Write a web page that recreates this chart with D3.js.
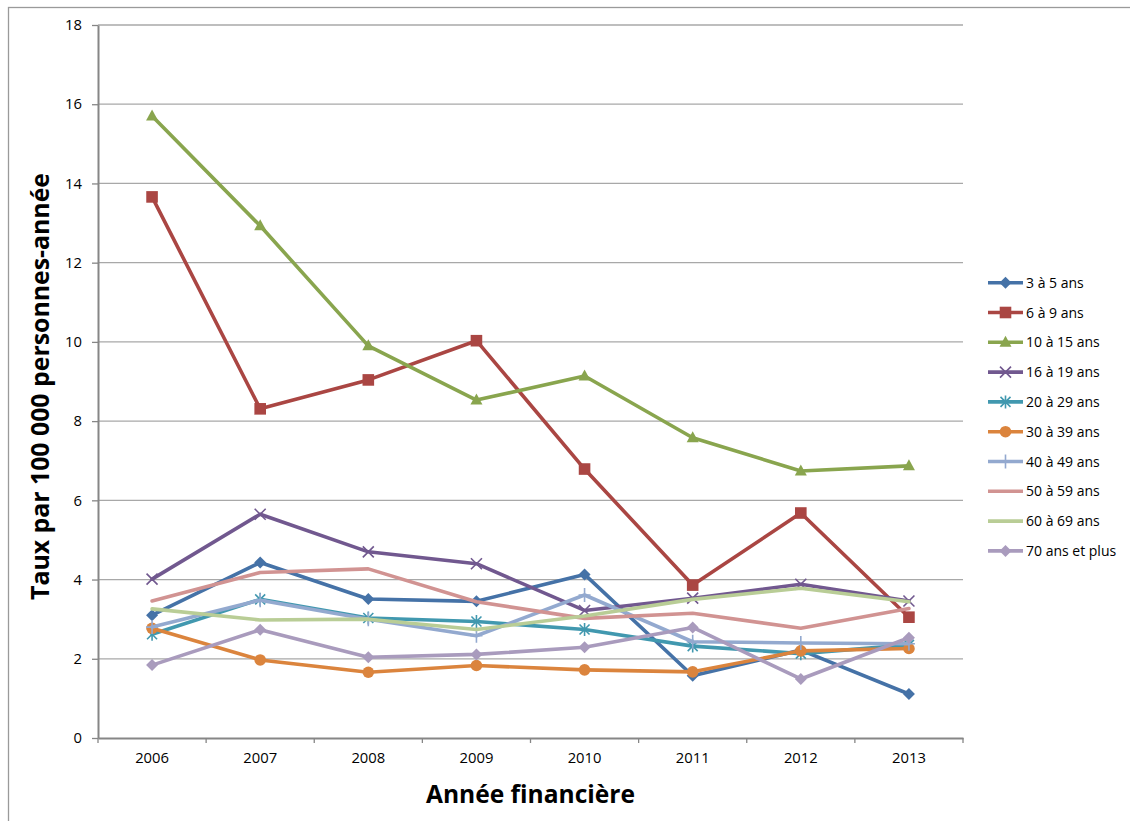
<!DOCTYPE html>
<html><head><meta charset="utf-8">
<script src="https://cdn.jsdelivr.net/npm/d3@7"></script>
<style>
html,body{margin:0;padding:0;background:#fff;}
svg{display:block;}
text{font-family:"Open Sans",sans-serif;fill:#000;}
</style></head>
<body><svg id="c" width="1130" height="821"></svg>
<script>
const years = ["2006","2007","2008","2009","2010","2011","2012","2013"];
const yTicks = [0,2,4,6,8,10,12,14,16,18];
const seriesNames = ["3 à 5 ans","6 à 9 ans","10 à 15 ans","16 à 19 ans","20 à 29 ans","30 à 39 ans","40 à 49 ans","50 à 59 ans","60 à 69 ans","70 ans et plus"];
const s3_5   = [3.10, 4.43, 3.51, 3.45, 4.13, 1.57, 2.22, 1.11];
const s6_9   = [13.66, 8.31, 9.04, 10.03, 6.79, 3.86, 5.68, 3.05];
const s10_15 = [15.70, 12.93, 9.90, 8.53, 9.14, 7.58, 6.74, 6.87];
const s16_19 = [4.01, 5.65, 4.70, 4.40, 3.22, 3.53, 3.88, 3.46];
const s20_29 = [2.62, 3.50, 3.03, 2.94, 2.74, 2.32, 2.13, 2.35];
const s30_39 = [2.77, 1.97, 1.66, 1.83, 1.72, 1.67, 2.20, 2.26];
const s40_49 = [2.80, 3.48, 3.00, 2.58, 3.61, 2.43, 2.40, 2.38];
const s50_59 = [3.46, 4.18, 4.27, 3.44, 3.02, 3.15, 2.77, 3.27];
const s60_69 = [3.26, 2.98, 3.00, 2.74, 3.08, 3.50, 3.78, 3.44];
const s70    = [1.84, 2.73, 2.04, 2.11, 2.29, 2.79, 1.49, 2.53];
const seriesValues = [s3_5, s6_9, s10_15, s16_19, s20_29, s30_39, s40_49, s50_59, s60_69, s70];
const colors = ["#4572A7","#AA4643","#89A54E","#71588F","#4198AF","#DB843D","#93A9CF","#D19392","#B9CD96","#A99BBD"];
const markers = ["diamond","square","triangle","x","asterisk","circle","plus","none","none","diamond"];

const svg = d3.select("#c");
const L = 98, R = 963, T = 25, B = 738;
const x = d3.scaleBand().domain(years).range([L, R]).paddingInner(0).paddingOuter(0);
const y = d3.scaleLinear().domain([0, 18]).range([B, T]);

// chart area border
svg.append("rect").attr("x", 8.5).attr("y", 7.5).attr("width", 1200).attr("height", 900)
  .attr("fill", "none").attr("stroke", "#9a9a9a").attr("stroke-width", 1.3);

// gridlines
svg.append("g").selectAll("line").data(yTicks.filter(d => d > 0)).join("line")
  .attr("x1", L).attr("x2", R).attr("y1", d => y(d)).attr("y2", d => y(d))
  .attr("stroke", "#a8a8a8").attr("stroke-width", 1.3);

// y axis
const yAxis = d3.axisLeft(y).tickValues(yTicks).tickSize(6).tickPadding(10).tickSizeOuter(0);
const gy = svg.append("g").attr("transform", `translate(${L},0)`).call(yAxis);
gy.select(".domain").attr("stroke", "#868686").attr("stroke-width", 2);
gy.selectAll(".tick line").attr("stroke", "#868686").attr("stroke-width", 1.3);
gy.selectAll(".tick text").attr("font-size", 14.8).attr("font-family", "Open Sans").attr("fill", "#000");

// x axis
const xAxis = d3.axisBottom(x).tickSize(0).tickPadding(14).tickSizeOuter(0);
const gx = svg.append("g").attr("transform", `translate(0,${B})`).call(xAxis);
gx.select(".domain").attr("stroke", "#868686").attr("stroke-width", 2);
gx.selectAll(".tick text").attr("font-size", 14.8).attr("font-family", "Open Sans").attr("fill", "#000");
// category boundary ticks
const bounds = years.map(d => x(d)).concat([x(years[years.length-1]) + x.bandwidth()]);
svg.append("g").selectAll("line").data(bounds).join("line")
  .attr("x1", d => d).attr("x2", d => d).attr("y1", B).attr("y2", B + 5)
  .attr("stroke", "#868686").attr("stroke-width", 1.3);

function drawMarker(g, type, color) {
  const sw = 1.6;
  if (type === "diamond") g.append("path").attr("d", "M0,-6L6,0L0,6L-6,0Z").attr("fill", color);
  else if (type === "square") g.append("path").attr("d", "M-5.8,-5.8H5.8V5.8H-5.8Z").attr("fill", color);
  else if (type === "triangle") g.append("path").attr("d", "M0,-6.5L6,4.5L-6,4.5Z").attr("fill", color);
  else if (type === "circle") g.append("circle").attr("r", 5.8).attr("fill", color);
  else if (type === "x") g.append("path").attr("d", "M-5.5,-5.5L5.5,5.5M5.5,-5.5L-5.5,5.5").attr("stroke", color).attr("stroke-width", sw).attr("fill", "none");
  else if (type === "asterisk") g.append("path").attr("d", "M-5,-5L5,5M5,-5L-5,5M0,-6.5V6.5").attr("stroke", color).attr("stroke-width", sw).attr("fill", "none");
  else if (type === "plus") g.append("path").attr("d", "M0,-7V7M-6,0H6").attr("stroke", color).attr("stroke-width", sw).attr("fill", "none");
}

const line = d3.line().x((d, i) => x(years[i]) + x.bandwidth() / 2).y(d => y(d));
const plot = svg.append("g");
seriesValues.forEach((vals, si) => {
  const g = plot.append("g");
  g.append("path").datum(vals).attr("d", line).attr("fill", "none")
    .attr("stroke", colors[si]).attr("stroke-width", 3.6)
    .attr("stroke-linejoin", "round").attr("stroke-linecap", "round");
  vals.forEach((v, i) => {
    const mg = g.append("g").attr("transform", `translate(${x(years[i]) + x.bandwidth() / 2},${y(v)})`);
    drawMarker(mg, markers[si], colors[si]);
  });
});

// legend
const leg = svg.append("g");
seriesNames.forEach((name, i) => {
  const ly = 282.7 + i * 29.8;
  const g = leg.append("g").attr("transform", `translate(0,${ly})`);
  g.append("line").attr("x1", 988).attr("x2", 1023).attr("y1", 0).attr("y2", 0)
    .attr("stroke", colors[i]).attr("stroke-width", 3.6);
  const mg = g.append("g").attr("transform", "translate(1005.5,0)");
  drawMarker(mg, markers[i], colors[i]);
  g.append("text").attr("x", 1026).attr("y", 0).attr("dy", "0.36em")
    .attr("font-size", 14).text(name);
});

// axis titles
svg.append("text").attr("transform", "translate(49,386.5) rotate(-90)")
  .attr("text-anchor", "middle").attr("font-size", 25).attr("font-weight", "bold")
  .attr("textLength", 427).attr("lengthAdjust", "spacingAndGlyphs")
  .text("Taux par 100 000 personnes-année");
svg.append("text").attr("x", 530.5).attr("y", 803)
  .attr("text-anchor", "middle").attr("font-size", 25).attr("font-weight", "bold")
  .attr("textLength", 209).attr("lengthAdjust", "spacingAndGlyphs")
  .text("Année financière");
</script></body></html>
